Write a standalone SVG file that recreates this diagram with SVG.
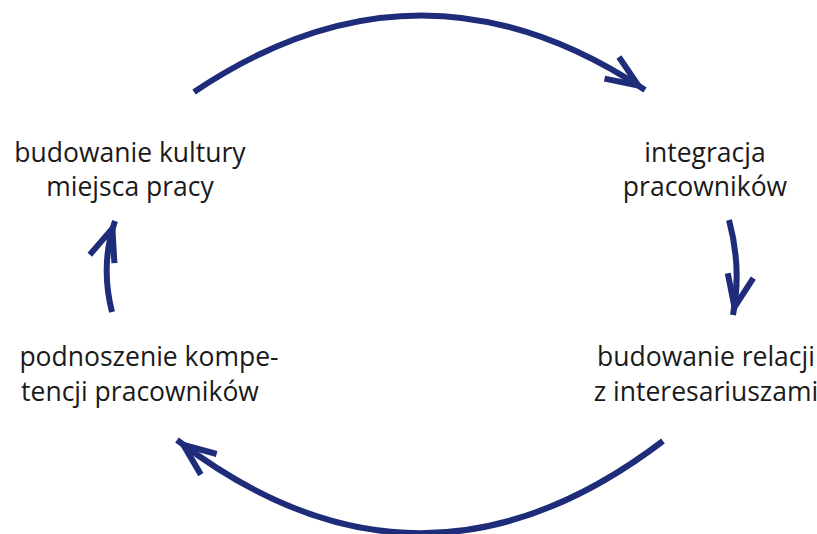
<svg xmlns="http://www.w3.org/2000/svg" width="817" height="534" viewBox="0 0 817 534">
<style>
.lbl{font-family:"Open Sans","Noto Sans","Liberation Sans",sans-serif;font-size:26.5px;fill:#1a1a1a;text-anchor:middle}
.arc{fill:none;stroke:#1e2c7a;stroke-width:6;stroke-linecap:butt}
</style>
<defs>
<marker id="head" markerUnits="userSpaceOnUse" orient="auto" markerWidth="60" markerHeight="40" refX="0" refY="0" viewBox="-50 -20 60 40" overflow="visible">
<path d="M-40,-13 L-8,0 L-40,13" fill="none" stroke="#1e2c7a" stroke-width="6" stroke-linejoin="miter" stroke-miterlimit="10"/>
</marker>
</defs>
<rect width="817" height="534" fill="#ffffff"/>
<g id="n1"><text class="lbl" x="130" y="162">budowanie kultury</text><text class="lbl" x="130" y="196">miejsca pracy</text></g>
<g id="n2"><text class="lbl" x="705" y="162">integracja</text><text class="lbl" x="705" y="196">pracowników</text></g>
<g id="n3"><text class="lbl" x="706" y="366">budowanie relacji</text><text class="lbl" x="706" y="401">z interesariuszami</text></g>
<g id="n4"><text class="lbl" x="149" y="366">podnoszenie kompe-</text><text class="lbl" x="140" y="401">tencji pracowników</text></g>
<g id="connectors">
<path class="arc" d="M194,92 Q420,-60 645,90" marker-end="url(#head)"/>
<path class="arc" d="M729,220 Q742,268 733,315" marker-end="url(#head)"/>
<path class="arc" d="M663,441 Q420,626 177,440" marker-end="url(#head)"/>
<path class="arc" d="M112,312 Q100,265 115,221" marker-end="url(#head)"/>
</g>
</svg>
